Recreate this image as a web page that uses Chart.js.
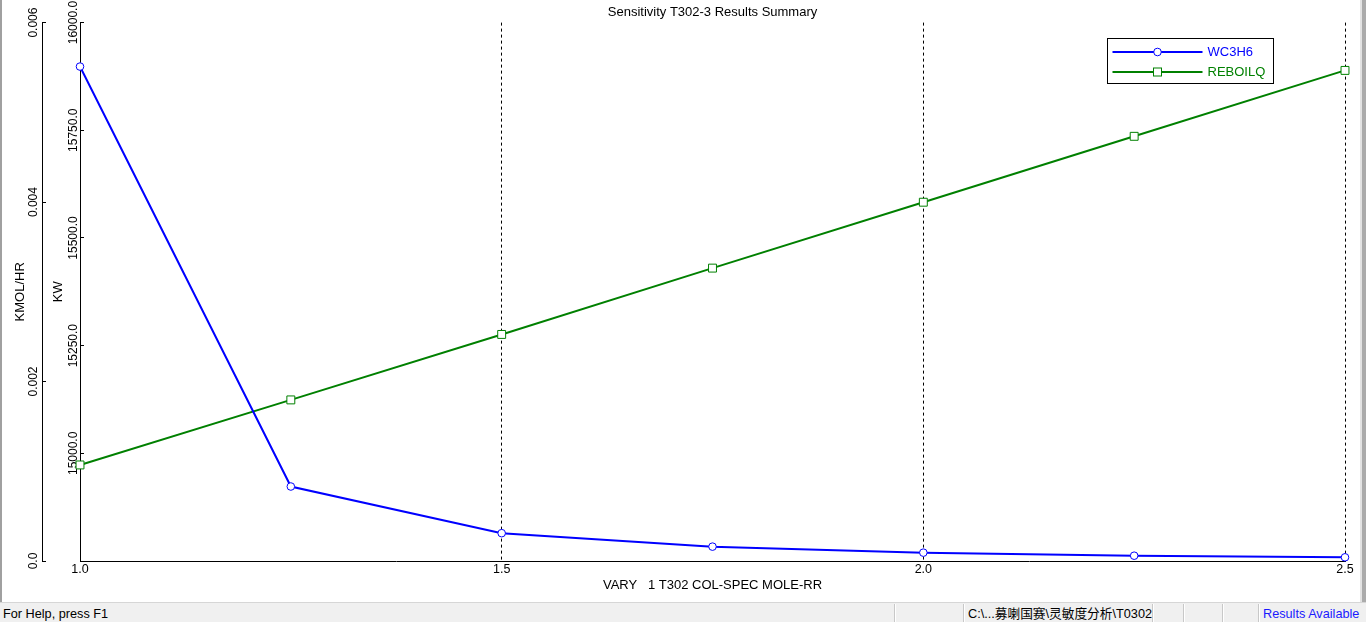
<!DOCTYPE html>
<html>
<head>
<meta charset="utf-8">
<title>Sensitivity T302-3 Results Summary</title>
<script src="https://cdn.jsdelivr.net/npm/chart.js@4.4.1/dist/chart.umd.min.js"></script>
<style>
html,body{margin:0;padding:0;background:#fff;overflow:hidden;}
#wrap{position:relative;width:1366px;height:622px;font-family:"Liberation Sans",Arial,"Noto Sans CJK SC",sans-serif;}
#plot{position:absolute;left:0;top:0;width:1366px;height:602px;background:#fff;}
#lb{position:absolute;left:0;top:0;width:2px;height:602px;background:#a0a0a0;}
#rb1{position:absolute;left:1360px;top:0;width:2px;height:602px;background:#e3e3e3;}
#rb2{position:absolute;left:1362px;top:0;width:4px;height:602px;background:#ababab;}
#status{position:absolute;left:0;top:602px;width:1366px;height:20px;background:#f0f0f0;border-top:1px solid #d6d6d6;box-sizing:border-box;font-size:12.7px;color:#000;}
#status span{position:absolute;top:4px;white-space:nowrap;line-height:14px;}
.sep{position:absolute;top:1px;width:1px;height:19px;background:#c8c8c8;border-right:1px solid #fff;}
</style>
</head>
<body>
<div id="wrap">
  <div id="plot"><canvas id="c" width="1366" height="602"></canvas></div>
  <div id="lb"></div><div id="rb1"></div><div id="rb2"></div>
  <div id="status">
    <span style="left:3px">For Help, press F1</span>
    <div class="sep" style="left:894px"></div>
    <div class="sep" style="left:963px"></div>
    <span style="left:968px;font-family:'Liberation Sans','Noto Sans CJK SC',sans-serif">C:\...募喇国赛\灵敏度分析\T0302</span>
    <div class="sep" style="left:1152px"></div>
    <div class="sep" style="left:1183px"></div>
    <div class="sep" style="left:1222px"></div>
    <div class="sep" style="left:1258px"></div>
    <span style="left:1263px;color:#1a1aff">Results Available</span>
  </div>
</div>
<script>
// ---- data ----
const xValues = [1.0, 1.25, 1.5, 1.75, 2.0, 2.25, 2.5];
const wc3h6 = [0.00551, 0.00083, 0.00031, 0.00016, 0.000093, 0.000059, 0.000041];
const reboilq = [14973, 15124, 15276, 15430, 15583, 15736, 15889];
const xTicks = [1.0, 1.5, 2.0, 2.5];
const xTickLabels = ['1.0', '1.5', '2.0', '2.5'];
const kmolTicks = [0, 0.002, 0.004, 0.006];
const kmolTickLabels = ['0.0', '0.002', '0.004', '0.006'];
const kwTicks = [15000, 15250, 15500, 15750, 16000];
const kwTickLabels = ['15000.0', '15250.0', '15500.0', '15750.0', '16000.0'];
const seriesNames = ['WC3H6', 'REBOILQ'];

const FONT = '"Liberation Sans", Arial, sans-serif';
Chart.defaults.font.family = FONT;
Chart.defaults.font.size = 12;
Chart.defaults.color = '#000';

const labelFrom = (ticks, labels) => (v) => {
  const i = ticks.findIndex(t => Math.abs(t - v) < 1e-9);
  return i >= 0 ? labels[i] : '';
};
const setTicks = (ticks) => (scale) => { scale.ticks = ticks.map(v => ({ value: v })); };

const legendBox = {
  id: 'legendBox',
  afterDatasetsDraw(chart) {
    const { ctx, chartArea } = chart;
    const x0 = Math.round(chartArea.right - 238) + 0.5;
    const y0 = Math.round(chartArea.top + 15) + 0.5;
    const w = 166, h = 45;
    ctx.save();
    ctx.fillStyle = '#fff';
    ctx.fillRect(x0, y0, w, h);
    ctx.strokeStyle = '#000';
    ctx.lineWidth = 1;
    ctx.strokeRect(x0, y0, w, h);
    chart.data.datasets.forEach((ds, i) => {
      const y = Math.round(y0 + 13 + i * 20);
      ctx.strokeStyle = ds.borderColor;
      ctx.lineWidth = 2;
      ctx.beginPath();
      ctx.moveTo(x0 + 5, y);
      ctx.lineTo(x0 + 95, y);
      ctx.stroke();
      ctx.lineWidth = 1;
      ctx.fillStyle = '#fff';
      const mx = x0 + 50;
      if (ds.pointStyle === 'circle') {
        ctx.beginPath();
        ctx.arc(mx, y, 3.8, 0, Math.PI * 2);
        ctx.fill(); ctx.stroke();
      } else {
        ctx.fillRect(mx - 4, y - 4, 8, 8);
        ctx.strokeRect(mx - 4, y - 4, 8, 8);
      }
      ctx.fillStyle = ds.borderColor;
      ctx.font = '13px ' + FONT;
      ctx.textAlign = 'left';
      ctx.textBaseline = 'middle';
      ctx.fillText(ds.label, x0 + 100, y);
    });
    ctx.restore();
  }
};

new Chart(document.getElementById('c'), {
  type: 'line',
  data: {
    datasets: [
      {
        label: seriesNames[0],
        data: xValues.map((x, i) => ({ x, y: wc3h6[i] })),
        yAxisID: 'yK',
        borderColor: '#0000ff',
        borderWidth: 2,
        pointStyle: 'circle',
        pointRadius: 3.8,
        pointBackgroundColor: '#fff',
        pointBorderColor: '#0000ff',
        pointBorderWidth: 1,
        tension: 0,
        clip: false
      },
      {
        label: seriesNames[1],
        data: xValues.map((x, i) => ({ x, y: reboilq[i] })),
        yAxisID: 'yW',
        borderColor: '#008000',
        borderWidth: 2,
        pointStyle: 'rect',
        pointRadius: 5.6,
        pointBackgroundColor: '#fff',
        pointBorderColor: '#008000',
        pointBorderWidth: 1,
        tension: 0,
        clip: false
      }
    ]
  },
  options: {
    responsive: false,
    animation: false,
    devicePixelRatio: 1,
    layout: { padding: { left: 0, right: 21, top: 0, bottom: 0 } },
    plugins: {
      legend: { display: false },
      tooltip: { enabled: false },
      title: {
        display: true,
        text: 'Sensitivity T302-3 Results Summary',
        fullSize: false,
        color: '#000',
        font: { size: 13, weight: 'normal', family: FONT },
        padding: { top: 5, bottom: 2 }
      }
    },
    scales: {
      x: {
        type: 'linear',
        position: 'bottom',
        min: 1.0,
        max: 2.5,
        afterBuildTicks: setTicks(xTicks),
        afterFit: (s) => { s.height = 41; },
        ticks: { callback: labelFrom(xTicks, xTickLabels), padding: 1, maxRotation: 0, autoSkip: false, color: '#000', font: { size: 12.5 } },
        grid: { display: true, drawOnChartArea: true, drawTicks: false, color: '#000', lineWidth: 1 },
        border: { display: true, color: '#000', width: 1, dash: [3, 3] },
        title: { display: true, text: 'VARY   1 T302 COL-SPEC MOLE-RR', color: '#000', font: { size: 13 }, padding: { top: 0, bottom: 9 } }
      },
      yK: {
        type: 'linear',
        position: 'left',
        weight: 2,
        min: 0,
        max: 0.006,
        afterBuildTicks: setTicks(kmolTicks),
        afterFit: (s) => { s.width = 42; },
        ticks: { callback: labelFrom(kmolTicks, kmolTickLabels), minRotation: 90, maxRotation: 90, crossAlign: 'center', padding: -3, color: '#000', autoSkip: false },
        grid: { display: true, drawOnChartArea: false, drawTicks: true, tickLength: -4, tickColor: '#000', tickWidth: 1, color: '#000' },
        border: { display: true, color: '#000', width: 1 },
        title: { display: true, text: 'KMOL/HR', color: '#000', font: { size: 13 }, padding: { top: 13, bottom: 0 } }
      },
      yW: {
        type: 'linear',
        position: 'left',
        weight: 1,
        min: 14750,
        max: 16000,
        afterBuildTicks: setTicks(kwTicks),
        afterFit: (s) => { s.width = 38; },
        ticks: { callback: labelFrom(kwTicks, kwTickLabels), minRotation: 90, maxRotation: 90, crossAlign: 'center', padding: -11, color: '#000', autoSkip: false },
        grid: { display: true, drawOnChartArea: false, drawTicks: true, tickLength: -4, tickColor: '#000', tickWidth: 1, color: '#000' },
        border: { display: true, color: '#000', width: 1 },
        title: { display: true, text: 'KW', color: '#000', font: { size: 13 }, padding: { top: 9, bottom: 0 } }
      }
    }
  },
  plugins: [legendBox]
});
</script>
</body>
</html>
